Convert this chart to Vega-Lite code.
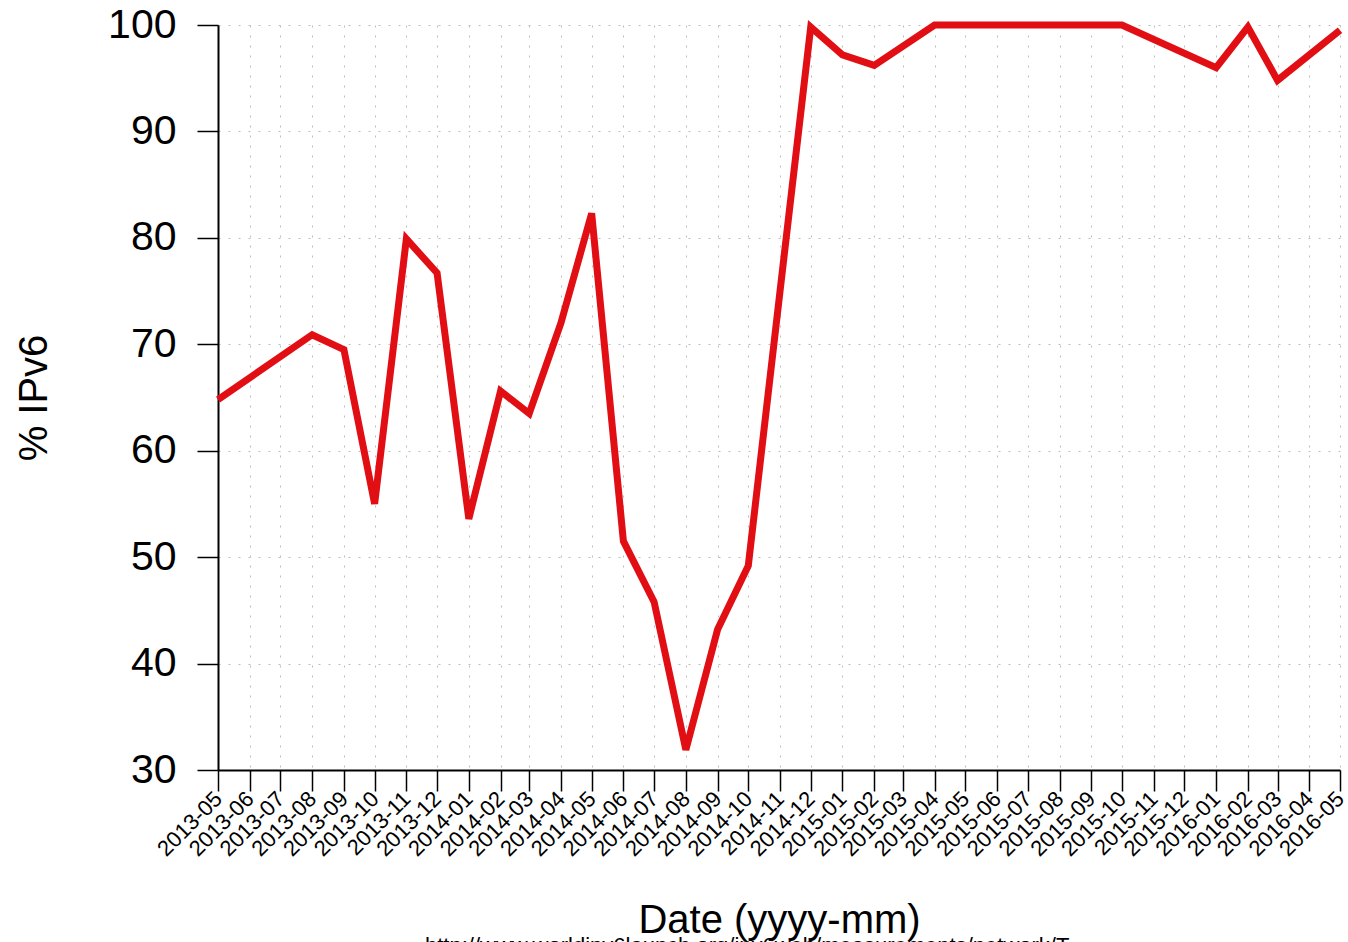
{
  "$schema": "https://vega.github.io/schema/vega-lite/v6.json",
  "width": 1122,
  "height": 745,
  "autosize": {"type": "none"},
  "padding": {"left": 218, "top": 25, "right": 8, "bottom": 172},
  "background": "white",
  "config": {"font": "Liberation Sans", "view": {"stroke": null}},
  "title": {
    "text": "http://www.worldipv6launch.org/ipv6web/measurements/network/T",
    "orient": "bottom",
    "anchor": "start",
    "frame": "group",
    "dx": 207,
    "offset": -4,
    "fontSize": 22,
    "fontWeight": "normal",
    "color": "black",
    "font": "Liberation Sans"
  },
  "data": {
    "values": [
      {"date": "2013-05-01", "ipv6": 64.8},
      {"date": "2013-08-01", "ipv6": 70.9},
      {"date": "2013-09-01", "ipv6": 69.5},
      {"date": "2013-10-01", "ipv6": 55.0},
      {"date": "2013-11-01", "ipv6": 79.9},
      {"date": "2013-12-01", "ipv6": 76.7},
      {"date": "2014-01-01", "ipv6": 53.6},
      {"date": "2014-02-01", "ipv6": 65.6},
      {"date": "2014-03-01", "ipv6": 63.5},
      {"date": "2014-04-01", "ipv6": 72.0},
      {"date": "2014-05-01", "ipv6": 82.3},
      {"date": "2014-06-01", "ipv6": 51.5},
      {"date": "2014-07-01", "ipv6": 45.8},
      {"date": "2014-08-01", "ipv6": 31.9},
      {"date": "2014-09-01", "ipv6": 43.2},
      {"date": "2014-10-01", "ipv6": 49.2},
      {"date": "2014-11-01", "ipv6": 75.0},
      {"date": "2014-12-01", "ipv6": 99.8},
      {"date": "2015-01-01", "ipv6": 97.2},
      {"date": "2015-02-01", "ipv6": 96.2},
      {"date": "2015-04-01", "ipv6": 100},
      {"date": "2015-05-01", "ipv6": 100},
      {"date": "2015-06-01", "ipv6": 100},
      {"date": "2015-07-01", "ipv6": 100},
      {"date": "2015-08-01", "ipv6": 100},
      {"date": "2015-09-01", "ipv6": 100},
      {"date": "2015-10-01", "ipv6": 100},
      {"date": "2016-01-01", "ipv6": 96.0},
      {"date": "2016-02-01", "ipv6": 99.8},
      {"date": "2016-03-01", "ipv6": 94.8},
      {"date": "2016-05-01", "ipv6": 99.5}
    ]
  },
  "mark": {
    "type": "line",
    "color": "#e10e14",
    "strokeWidth": 7,
    "strokeJoin": "miter",
    "strokeMiterLimit": 4,
    "clip": false
  },
  "encoding": {
    "x": {
      "field": "date",
      "type": "temporal",
      "scale": {
        "type": "utc",
        "domain": [
          {"year": 2013, "month": 5, "date": 1, "utc": true},
          {"year": 2016, "month": 5, "date": 1, "utc": true}
        ],
        "nice": false
      },
      "axis": {
        "title": "Date (yyyy-mm)",
        "format": "%Y-%m",
        "tickCount": {"interval": "month", "step": 1},
        "labelAngle": -45,
        "labelAlign": "right",
        "labelBaseline": "middle",
        "labelFontSize": 22,
        "labelColor": "black",
        "labelPadding": 4,
        "labelOverlap": false,
        "labelFlush": false,
        "tickSize": 21,
        "tickColor": "black",
        "tickWidth": 1.5,
        "domainColor": "black",
        "domainWidth": 2,
        "grid": true,
        "gridColor": "#bdbdbd",
        "gridDash": [2, 8],
        "gridWidth": 1,
        "titleFontSize": 40,
        "titleFontWeight": "normal",
        "titleColor": "black",
        "titleBaseline": "alphabetic",
        "titleY": 162
      }
    },
    "y": {
      "field": "ipv6",
      "type": "quantitative",
      "scale": {"domain": [30, 100], "nice": false, "zero": false},
      "axis": {
        "title": "% IPv6",
        "values": [30, 40, 50, 60, 70, 80, 90, 100],
        "labelFontSize": 41,
        "labelColor": "black",
        "labelPadding": 21,
        "tickSize": 21,
        "tickColor": "black",
        "tickWidth": 1.5,
        "domainColor": "black",
        "domainWidth": 2,
        "grid": true,
        "gridColor": "#bdbdbd",
        "gridDash": [2, 8],
        "gridWidth": 1,
        "titleFontSize": 40,
        "titleFontWeight": "normal",
        "titleColor": "black",
        "titleBaseline": "alphabetic",
        "titleX": -172
      }
    }
  }
}
